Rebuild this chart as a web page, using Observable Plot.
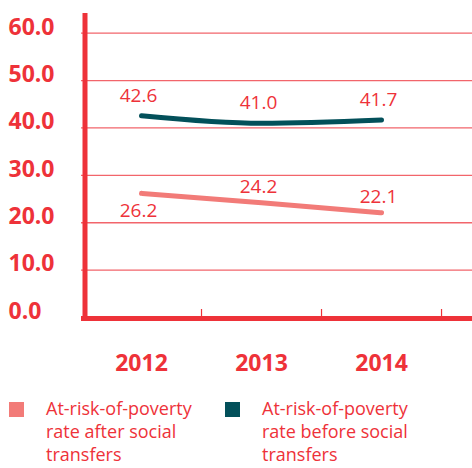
<!DOCTYPE html>
<html><head><meta charset="utf-8">
<script src="https://cdn.jsdelivr.net/npm/d3@7"></script>
<script src="https://cdn.jsdelivr.net/npm/@observablehq/plot@0.6"></script>
<style>
body{margin:0;background:#fff;font-family:"Open Sans",sans-serif;}
#legend{display:flex;margin-top:12px;}
.item{display:flex;width:216px;align-items:flex-start;}
.sw{width:15px;height:15px;margin-left:9px;margin-top:5px;flex:none;}
.lt{margin-left:22px;color:#ee3239;font-size:18px;line-height:23px;}
</style></head><body>
<div id="chart"></div>
<div id="legend"></div>
<script>
const years = [2012, 2013, 2014];
const afterTransfers = [26.2, 24.2, 22.1];
const beforeTransfers = [42.6, 41.0, 41.7];
const seriesNames = ["At-risk-of-poverty rate after social transfers", "At-risk-of-poverty rate before social transfers"];
const yTicks = [0, 10, 20, 30, 40, 50, 60];
const bandEdges = [2012.5, 2013.5, 2014.5];

const red = "#ee3239", salmon = "#f27b78", teal = "#03505a";
const after = years.map((y, i) => ({year: y, value: afterTransfers[i]}));
const before = years.map((y, i) => ({year: y, value: beforeTransfers[i]}));

const chart = Plot.plot({
  width: 472, height: 385,
  marginLeft: 81, marginRight: 0, marginTop: 9, marginBottom: 68,
  style: {fontFamily: "Open Sans", color: red},
  x: {domain: [2011.5, 2014.758], axis: null},
  y: {domain: [0, 65], axis: null},
  marks: [
    Plot.ruleY(yTicks.filter(d => d > 0), {stroke: red, strokeOpacity: 0.75, strokeWidth: 1.3}),
    Plot.axisY(yTicks, {tickSize: 0, tickPadding: 73, textAnchor: "start", dy: -6, tickFormat: d => d.toFixed(1), fontSize: 23, fontWeight: "bold", fill: red, label: null}),
    Plot.axisX(bandEdges, {tickSize: -8, tickFormat: () => "", stroke: red, strokeWidth: 1.2, label: null}),
    Plot.axisX(years, {tickSize: 0, tickPadding: 37, tickFormat: d => String(d), fontSize: 23, fontWeight: "bold", fill: red, label: null}),
    Plot.ruleY([0], {stroke: red, strokeWidth: 5, dy: 1}),
    Plot.ruleX([2011.5], {y1: 0, y2: 65, stroke: red, strokeWidth: 5, dx: 3.5, insetBottom: -4}),
    Plot.line(before, {x: "year", y: "value", stroke: teal, strokeWidth: 5, curve: "monotone-x"}),
    Plot.line(after, {x: "year", y: "value", stroke: salmon, strokeWidth: 5, curve: "monotone-x"}),
    Plot.text(before, {x: "year", y: "value", text: d => d.value.toFixed(1), dy: -20, dx: -3, fill: red, fontSize: 19}),
    Plot.text(after.filter((d, i) => i === 0), {x: "year", y: "value", text: d => d.value.toFixed(1), dy: 18, dx: -3, fill: red, fontSize: 19}),
    Plot.text(after.filter((d, i) => i > 0), {x: "year", y: "value", text: d => d.value.toFixed(1), dy: -16, dx: -3, fill: red, fontSize: 19})
  ]
});
document.getElementById("chart").append(chart);

const legend = document.getElementById("legend");
const legendColors = [salmon, teal];
const legendLines = [["At-risk-of-poverty", "rate after social", "transfers"], ["At-risk-of-poverty", "rate before social", "transfers"]];
legendLines.forEach((lines, i) => {
  const it = document.createElement("div"); it.className = "item";
  const sw = document.createElement("div"); sw.className = "sw"; sw.style.background = legendColors[i];
  const lt = document.createElement("div"); lt.className = "lt"; lt.innerHTML = lines.join("<br>");
  lt.title = seriesNames[i];
  it.append(sw, lt); legend.append(it);
});
</script>
</body></html>
